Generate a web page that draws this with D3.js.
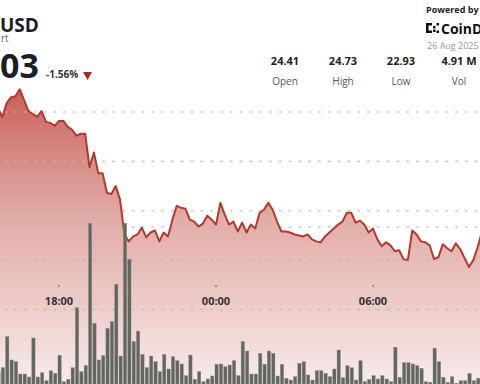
<!DOCTYPE html>
<html>
<head>
<meta charset="utf-8">
<script src="https://cdn.jsdelivr.net/npm/d3@7"></script>
<style>
  body { margin: 0; background: #fff; }
  svg { display: block; font-family: "Open Sans", sans-serif; }
</style>
</head>
<body>
<div id="chart"></div>
<script>
// 10 minute candles, first one at 15:40 UTC on 25 Aug 2025
const startTime = Date.UTC(2025, 7, 25, 15, 40);
const stepMinutes = 10;

const prices = [
  24.54, 24.45, 24.59, 24.65, 24.66, 24.73, 24.62, 24.51, 24.48, 24.45,
  24.51, 24.40, 24.39, 24.36, 24.41, 24.41, 24.35, 24.32, 24.26, 24.28,
  24.28, 23.94, 24.09, 23.88, 23.88, 23.68, 23.67, 23.75, 23.61, 23.26,
  23.19, 23.24, 23.26, 23.33, 23.23, 23.28, 23.30, 23.19, 23.28, 23.24,
  23.41, 23.55, 23.53, 23.52, 23.41, 23.39, 23.34, 23.37, 23.45, 23.41,
  23.36, 23.58, 23.46, 23.36, 23.39, 23.29, 23.38, 23.28, 23.36, 23.32,
  23.48, 23.51, 23.58, 23.51, 23.39, 23.29, 23.29, 23.28, 23.26, 23.25,
  23.24, 23.26, 23.21, 23.19, 23.18, 23.24, 23.28, 23.32, 23.36, 23.39,
  23.48, 23.48, 23.38, 23.40, 23.36, 23.28, 23.32, 23.21, 23.14, 23.18,
  23.15, 23.09, 23.10, 23.01, 23.00, 23.30, 23.26, 23.19, 23.18, 23.15,
  23.01, 23.03, 23.16, 23.12, 23.09, 23.17, 23.11, 23.02, 22.93, 23.00,
  23.13, 23.29
];

// volume per candle, thousands
const volumes = [
  15.7, 20.8, 60.3, 30.6, 28.4, 12.7, 12.7, 8.9, 58.6, 8.9,
  14.4, 4.2, 16.9, 13.6, 36.6, 2.9, 6.0, 20.8, 97.2, 15.7,
  23.8, 204.7, 77.3, 30.6, 36.1, 71.0, 79.4, 127.0, 35.7, 204.7,
  158.9, 53.9, 67.5, 37.8, 20.8, 35.7, 28.4, 15.7, 37.8, 19.1,
  34.8, 29.7, 25.5, 10.6, 36.9, 6.0, 15.7, 2.9, 6.4, 10.2,
  25.1, 25.5, 22.0, 24.2, 29.7, 10.6, 53.9, 42.0, 12.7, 12.7,
  39.1, 25.1, 42.0, 39.1, 10.2, 25.1, 7.3, 5.1, 9.3, 26.4,
  28.4, 11.5, 5.1, 16.9, 16.9, 13.6, 9.3, 19.1, 43.3, 8.0,
  23.3, 20.8, 5.1, 29.7, 2.9, 6.0, 10.6, 6.4, 10.6, 6.4,
  2.9, 46.8, 8.5, 27.1, 27.1, 25.5, 23.3, 20.0, 2.9, 2.2,
  45.5, 28.4, 8.5, 2.2, 9.3, 0.9, 4.2, 4.2, 13.6, 4.2,
  7.3
];

const priceTicks = [24.5, 24.0, 23.5, 23.0, 22.5];
const volumeTicks = [200];
const stats = [
  {value: "24.41", label: "Open"},
  {value: "24.73", label: "High"},
  {value: "22.93", label: "Low"},
  {value: "4.91 M", label: "Vol"}
];

const width = 480, height = 384;
const timeAt = i => new Date(startTime + i * stepMinutes * 60000);

const svg = d3.select("#chart").append("svg")
    .attr("width", width)
    .attr("height", height);

const x = d3.scaleUtc()
    .domain([new Date(Date.UTC(2025, 7, 25, 18)), new Date(Date.UTC(2025, 7, 26, 6))])
    .range([59, 373]);

const y = d3.scaleLinear()
    .domain([22.5, 24.5])
    .range([309.5, 112]);

const yVol = d3.scaleLinear()
    .domain([0, 200])
    .range([384, 227]);

const defs = svg.append("defs");
const grad = defs.append("linearGradient")
    .attr("id", "areaFill")
    .attr("x1", 0).attr("y1", 0).attr("x2", 0).attr("y2", 1);
grad.append("stop").attr("offset", "0%").attr("stop-color", "#c4574f").attr("stop-opacity", 0.95);
grad.append("stop").attr("offset", "45%").attr("stop-color", "#d9928c").attr("stop-opacity", 0.75);
grad.append("stop").attr("offset", "100%").attr("stop-color", "#f6e6e5").attr("stop-opacity", 0.8);

const series = prices.map((p, i) => ({t: timeAt(i), p: p}));

const area = d3.area()
    .x(d => x(d.t))
    .y0(height)
    .y1(d => y(d.p));

const line = d3.line()
    .x(d => x(d.t))
    .y(d => y(d.p));

svg.append("path")
    .datum(series)
    .attr("d", area)
    .attr("fill", "url(#areaFill)");

// gridlines, dotted
const grid = svg.append("g")
    .attr("stroke", "#b9b9b9")
    .attr("stroke-width", 1.6)
    .attr("stroke-dasharray", "1.6,8.2")
    .attr("stroke-linecap", "round")
    .attr("opacity", 0.75);

grid.selectAll("line.p")
    .data(priceTicks)
    .join("line")
    .attr("x1", 5).attr("x2", width)
    .attr("y1", d => y(d)).attr("y2", d => y(d));

grid.selectAll("line.v")
    .data(volumeTicks)
    .join("line")
    .attr("x1", 5).attr("x2", width)
    .attr("y1", d => yVol(d)).attr("y2", d => yVol(d));

svg.append("path")
    .datum(series)
    .attr("d", line)
    .attr("fill", "none")
    .attr("stroke", "#b3382e")
    .attr("stroke-width", 2)
    .attr("stroke-linejoin", "round");

// volume bars
const barW = 3.3;
svg.append("g")
    .selectAll("rect")
    .data(volumes)
    .join("rect")
    .attr("x", (d, i) => x(timeAt(i)) + 0.6 - barW / 2)
    .attr("y", d => yVol(d))
    .attr("width", barW)
    .attr("height", d => yVol(0) - yVol(d))
    .attr("fill", "#62665f")
    .attr("stroke", "#8a8d88")
    .attr("stroke-width", 0.4);

// time axis
const ticks = x.ticks(d3.utcHour.every(6)).filter(t => x(t) > 0 && x(t) < width);
const axis = svg.append("g");
axis.selectAll("circle")
    .data(ticks)
    .join("circle")
    .attr("cx", d => x(d))
    .attr("cy", 286)
    .attr("r", 0.8)
    .attr("fill", "#555");
axis.selectAll("text")
    .data(ticks)
    .join("text")
    .attr("x", d => x(d))
    .attr("y", 305)
    .attr("text-anchor", "middle")
    .attr("font-size", 11)
    .attr("font-weight", 700)
    .attr("fill", "#333")
    .text(d => d3.utcFormat("%H:%M")(d));

// header (left side is cut by the frame, only the visible part is kept)
svg.append("text")
    .attr("x", 0).attr("y", 32)
    .attr("font-size", 19).attr("font-weight", 700).attr("fill", "#1b1d2a")
    .text("USD");
svg.append("text")
    .attr("x", 1).attr("y", 42)
    .attr("font-size", 10).attr("fill", "#666")
    .text("rt");
svg.append("text")
    .attr("x", 0).attr("y", 78)
    .attr("font-size", 34).attr("font-weight", 700).attr("fill", "#1b1d2a")
    .text("03");
svg.append("text")
    .attr("x", 46).attr("y", 78)
    .attr("font-size", 10).attr("font-weight", 700).attr("fill", "#333")
    .text("-1.56%");
svg.append("path")
    .attr("d", "M83,72L92,72L87.5,80Z")
    .attr("fill", "#b3261e");

const statG = svg.append("g")
    .selectAll("g")
    .data(stats)
    .join("g")
    .attr("transform", (d, i) => `translate(${285 + i * 58},0)`);
statG.append("text")
    .attr("y", 65).attr("text-anchor", "middle")
    .attr("font-size", 11).attr("font-weight", 700).attr("fill", "#222")
    .text(d => d.value);
statG.append("text")
    .attr("y", 85).attr("text-anchor", "middle")
    .attr("font-size", 10).attr("fill", "#555")
    .text(d => d.label);

svg.append("text")
    .attr("x", 426).attr("y", 13)
    .attr("font-size", 9).attr("font-weight", 700).attr("fill", "#222")
    .text("Powered by");

// coindesk mark
const logo = svg.append("g").attr("fill", "#111");
[[426, 23, 2.5, 10], [426, 23, 6, 2.5], [426, 30.5, 6, 2.5], [433, 26, 2.5, 2.5], [433, 29.5, 2.5, 2.5], [436.5, 23, 2.5, 2.5], [436.5, 30.5, 2.5, 2.5]]
    .forEach(r => logo.append("rect").attr("x", r[0]).attr("y", r[1]).attr("width", r[2]).attr("height", r[3]));
svg.append("text")
    .attr("x", 441).attr("y", 33.5)
    .attr("font-size", 14).attr("font-weight", 700).attr("fill", "#111")
    .text("CoinD");
svg.append("text")
    .attr("x", 427).attr("y", 49)
    .attr("font-size", 9)
    .attr("fill", "#999")
    .text("26 Aug 2025");
</script>
</body>
</html>
